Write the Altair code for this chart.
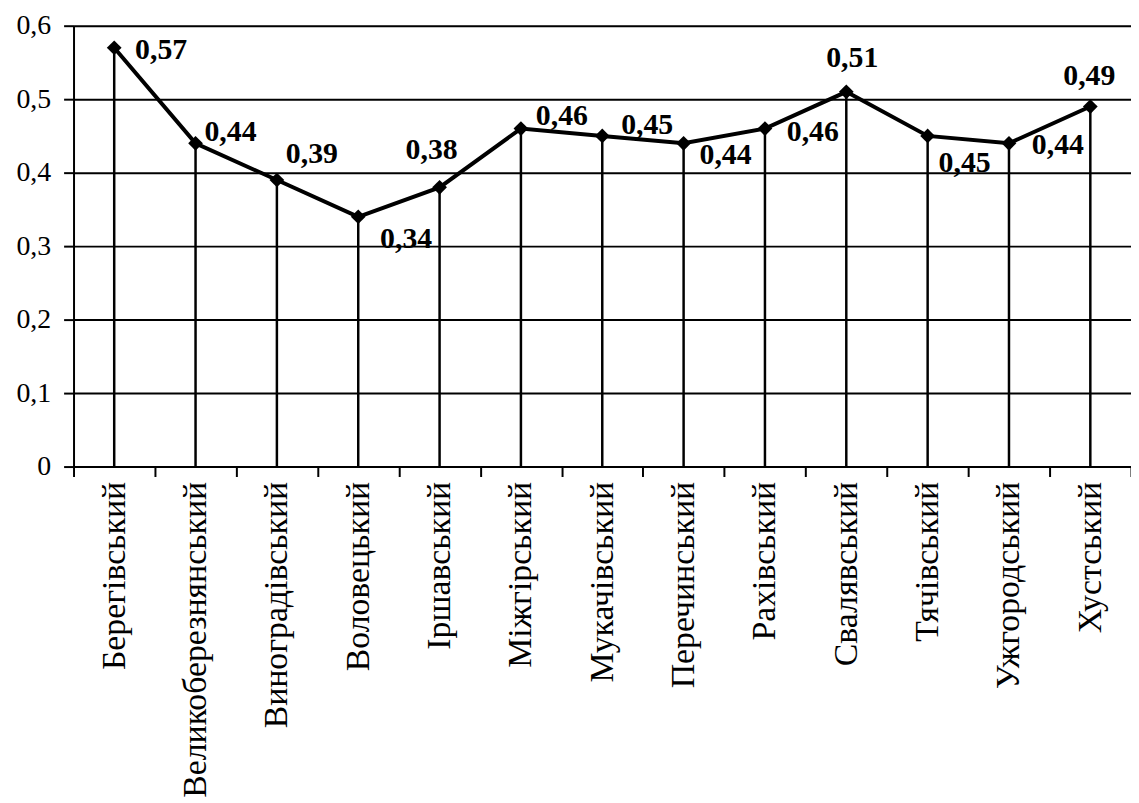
import altair as alt
import pandas as pd

districts = ["Берегівський", "Великоберезнянський", "Виноградівський", "Воловецький",
             "Іршавський", "Міжгірський", "Мукачівський", "Перечинський", "Рахівський",
             "Свалявський", "Тячівський", "Ужгородський", "Хустський"]
values = [0.57, 0.44, 0.39, 0.34, 0.38, 0.46, 0.45, 0.44, 0.46, 0.51, 0.45, 0.44, 0.49]
y_ticks = [0, 0.1, 0.2, 0.3, 0.4, 0.5, 0.6]

# label placement (style only)
label_dx = [21, 9, 9, 22, -8, 15, 19, 16, 22, 6, 11, 23, -1]
label_dy = [2, -11, -26, 22, -38, -13, -11, 12, 4, -34, 27, 2, -31]
label_align = ["left", "left", "left", "left", "center", "left", "left", "left", "left",
               "center", "left", "left", "center"]

FONT = "Liberation Serif, Times New Roman, serif"

df = pd.DataFrame({
    "district": districts,
    "value": values,
    "label": [f"{v:.2f}".replace(".", ",") for v in values],
})

x_enc = alt.X(
    "district:N", sort=districts,
    scale=alt.Scale(paddingInner=0, paddingOuter=0),
    axis=alt.Axis(title=None, labelAngle=270, labelFont=FONT, labelFontSize=34,
                  labelColor="black", labelPadding=5, tickBand="extent", tickSize=10,
                  tickWidth=2, tickColor="black", domainColor="black", domainWidth=2,
                  grid=False, labelLimit=500),
)
y_enc = alt.Y(
    "value:Q",
    scale=alt.Scale(domain=[0, 0.6], nice=False, zero=True),
    axis=alt.Axis(title=None, values=y_ticks, grid=True, gridColor="black", gridWidth=2,
                  gridOpacity=1, labelFont=FONT, labelFontSize=28, labelColor="black",
                  labelPadding=13, tickSize=10, tickWidth=2, tickColor="black",
                  domainColor="black", domainWidth=2,
                  labelExpr="datum.value == 0 ? '0' : replace(format(datum.value, '.1f'), '.', ',')"),
)

base = alt.Chart(df)

rules = base.mark_rule(color="black", strokeWidth=2.5).encode(
    x=x_enc, y=y_enc, y2=alt.datum(0)
)
line = base.mark_line(color="black", strokeWidth=4).encode(x=x_enc, y=y_enc)
points = base.mark_point(shape="diamond", filled=True, color="black", size=220, opacity=1).encode(
    x=x_enc, y=y_enc
)

layers = [rules, line, points]
for i, d in enumerate(districts):
    layers.append(
        base.transform_filter(alt.datum.district == d)
        .mark_text(font=FONT, fontSize=30, fontWeight="bold", color="black",
                   align=label_align[i], baseline="middle", dx=label_dx[i], dy=label_dy[i])
        .encode(x=x_enc, y=y_enc, text="label:N")
    )

chart = alt.layer(*layers).properties(
    width=1065, height=444,
    padding={"left": 66, "top": 15, "right": 0, "bottom": 336},
    autosize=alt.AutoSizeParams(type="none"),
).configure_view(stroke=None).configure(background="white")

chart.save("out.html", embed_options={"renderer": "svg", "actions": False})
